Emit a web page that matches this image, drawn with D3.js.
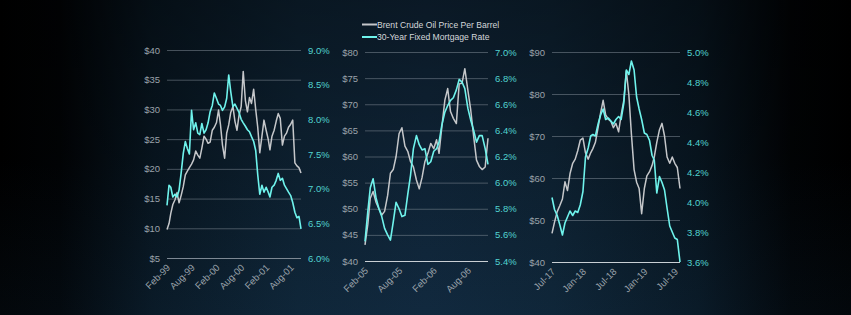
<!DOCTYPE html>
<html lang="en">
<head>
<meta charset="utf-8">
<title>Oil vs Mortgage Rates</title>
<script src="https://d3js.org/d3.v7.min.js"></script>
<style>
  html, body { margin: 0; padding: 0; background: #000; }
  svg { display: block; }
  text { font-family: "Liberation Sans", Arial, sans-serif; }
</style>
</head>
<body>
<div id="chart"></div>
<script>
// half-month samples, panel 1 starts Feb-99
const oil1 = [9.8,10.8,12.5,14.0,14.8,16.0,14.3,15.5,17.0,19.0,
  19.6,20.2,20.8,21.5,23.0,22.3,21.8,23.5,25.5,25.0,
  24.3,24.5,26.5,27.0,27.8,29.9,27.5,24.0,21.8,26.0,
  27.4,29.5,30.5,28.0,26.5,29.0,30.5,36.4,31.5,29.6,
  32.0,31.0,33.4,30.0,27.0,22.7,25.5,28.2,26.5,25.0,
  23.2,25.5,26.5,28.0,29.3,28.5,24.0,25.5,26.0,27.0,
  27.5,28.2,21.0,20.5,20.2,19.3];
const rate1 = [6.76,7.05,7.02,6.88,6.92,6.88,6.98,7.22,7.51,7.68,
  7.58,7.50,8.13,7.85,7.95,7.80,7.78,7.94,7.80,7.85,
  7.95,8.11,8.20,8.38,8.30,8.22,8.20,8.13,8.18,8.30,
  8.64,8.40,8.18,8.22,8.16,8.10,8.00,7.95,7.90,7.85,
  7.82,7.75,7.68,7.55,7.20,6.92,7.05,6.95,7.02,6.95,
  6.88,7.02,7.05,7.12,7.22,7.12,7.15,7.05,7.00,6.95,
  6.90,6.80,6.66,6.58,6.60,6.42];

// panel 2 starts Feb-05
const oil2 = [43.1,47.0,52.0,53.3,51.2,50.0,48.8,49.5,52.5,56.8,
  57.5,60.0,64.4,65.5,62.0,61.0,59.0,58.0,55.5,53.8,
  56.0,59.0,60.6,62.5,61.5,63.2,60.6,65.7,70.8,73.0,
  68.6,67.3,66.3,73.9,74.0,76.8,72.7,69.0,63.8,59.3,
  58.1,57.5,58.0,63.5];
const rate2 = [5.55,5.78,5.96,6.03,5.88,5.80,5.74,5.65,5.60,5.56,
  5.70,5.85,5.80,5.74,5.75,5.91,6.06,6.26,6.36,6.29,
  6.25,6.26,6.14,6.16,6.24,6.26,6.31,6.44,6.54,6.59,
  6.63,6.65,6.71,6.79,6.77,6.72,6.57,6.48,6.40,6.31,
  6.36,6.36,6.26,6.14];

// panel 3 starts Jul-17
const oil3 = [46.8,49.5,52.0,53.4,55.0,59.1,57.0,61.0,63.5,64.5,
  66.5,69.0,69.5,66.0,64.5,66.0,67.0,68.5,72.0,75.5,
  78.5,75.0,74.0,73.5,72.0,73.0,71.0,75.0,78.5,85.5,
  79.8,70.5,62.0,59.0,57.5,51.5,57.5,60.5,61.5,63.0,
  65.0,68.5,71.5,73.0,70.0,65.0,63.5,65.0,63.5,62.5,
  57.5];
const rate3 = [4.03,3.95,3.91,3.85,3.78,3.86,3.90,3.94,3.91,3.94,
  3.93,3.98,4.07,4.30,4.36,4.44,4.45,4.44,4.52,4.58,
  4.62,4.55,4.56,4.54,4.52,4.55,4.57,4.55,4.66,4.88,
  4.85,4.94,4.88,4.70,4.62,4.55,4.46,4.45,4.41,4.31,
  4.28,4.06,4.17,4.13,4.08,3.96,3.84,3.80,3.76,3.75,
  3.60];

const xTicks1 = ["Feb-99","Aug-99","Feb-00","Aug-00","Feb-01","Aug-01"];
const xTicks2 = ["Feb-05","Aug-05","Feb-06","Aug-06"];
const xTicks3 = ["Jul-17","Jan-18","Jul-18","Jan-19","Jul-19"];

const oilTicks1 = [5,10,15,20,25,30,35,40];
const rateTicks1 = [6.0,6.5,7.0,7.5,8.0,8.5,9.0];
const oilTicks2 = [40,45,50,55,60,65,70,75,80];
const rateTicks2 = [5.4,5.6,5.8,6.0,6.2,6.4,6.6,6.8,7.0];
const oilTicks3 = [40,50,60,70,80,90];
const rateTicks3 = [3.6,3.8,4.0,4.2,4.4,4.6,4.8,5.0];

const seriesNames = ["Brent Crude Oil Price Per Barrel", "30-Year Fixed Mortgage Rate"];

const width = 851, height = 315;
const oilColor = "#c5c7ca", rateColor = "#6ff3ec";

const parseTick = d3.timeParse("%b-%y");

function halfMonths(startLabel, n) {
  const start = parseTick(startLabel);
  return d3.range(n).map(i => {
    const m = d3.timeMonth.offset(start, Math.floor(i / 2));
    return i % 2 ? d3.timeDay.offset(m, 15) : m;
  });
}

const panels = [
  {oil: oil1, rate: rate1, start: "Feb-99", xt: xTicks1, ot: oilTicks1, rt: rateTicks1,
   x0: 167, x1: 301, top: 50, bot: 258, baseColor: "#7d8893"},
  {oil: oil2, rate: rate2, start: "Feb-05", xt: xTicks2, ot: oilTicks2, rt: rateTicks2,
   x0: 365, x1: 488, top: 52, bot: 261, baseColor: "#c9cfd4"},
  {oil: oil3, rate: rate3, start: "Jul-17", xt: xTicks3, ot: oilTicks3, rt: rateTicks3,
   x0: 552, x1: 680, top: 52, bot: 262, baseColor: "#c9cfd4"}
];

const svg = d3.select("#chart").append("svg")
  .attr("width", width).attr("height", height);

// background vignette
const defs = svg.append("defs");
const hg = defs.append("linearGradient").attr("id", "bgH");
[[0, "#000000"], [0.07, "#010305"], [0.18, "#081621"], [0.35, "#0e2334"],
 [0.5, "#10263a"], [0.65, "#0e2334"], [0.82, "#081621"], [0.93, "#010305"], [1, "#000000"]]
  .forEach(s => hg.append("stop").attr("offset", s[0]).attr("stop-color", s[1]));
const vg = defs.append("linearGradient").attr("id", "bgV")
  .attr("x1", 0).attr("y1", 0).attr("x2", 0).attr("y2", 1);
vg.append("stop").attr("offset", 0).attr("stop-color", "#000").attr("stop-opacity", 0.35);
vg.append("stop").attr("offset", 0.5).attr("stop-color", "#000").attr("stop-opacity", 0.12);
vg.append("stop").attr("offset", 1).attr("stop-color", "#1a4060").attr("stop-opacity", 0.12);

svg.append("rect").attr("width", width).attr("height", height).attr("fill", "url(#bgH)");
svg.append("rect").attr("width", width).attr("height", height).attr("fill", "url(#bgV)");

panels.forEach(p => {
  const dates = halfMonths(p.start, p.oil.length);
  const x = d3.scaleTime().domain(d3.extent(dates)).range([p.x0, p.x1]);
  const yOil = d3.scaleLinear().domain(d3.extent(p.ot)).range([p.bot, p.top]);
  const yRate = d3.scaleLinear().domain(d3.extent(p.rt)).range([p.bot, p.top]);

  // left axis + gridlines
  const gl = svg.append("g")
    .attr("transform", `translate(${p.x0},0)`)
    .call(d3.axisLeft(yOil).tickValues(p.ot).tickFormat(d => "$" + d)
      .tickSize(-(p.x1 - p.x0)).tickPadding(7));
  gl.select(".domain").remove();
  gl.selectAll(".tick line").attr("stroke", "#7a8590").attr("stroke-opacity", 0.55);
  gl.selectAll(".tick").filter(d => d === p.ot[0]).select("line")
    .attr("stroke", p.baseColor).attr("stroke-opacity", 1).attr("stroke-width", 1.2);
  gl.selectAll(".tick text").attr("fill", "#9aa2aa").attr("font-size", "9.5px")
    .attr("font-family", "'Liberation Sans', Arial, sans-serif");

  // right axis
  const gr = svg.append("g")
    .attr("transform", `translate(${p.x1},0)`)
    .call(d3.axisRight(yRate).tickValues(p.rt).tickFormat(d => d.toFixed(1) + "%")
      .tickSize(0).tickPadding(7));
  gr.select(".domain").remove();
  gr.selectAll(".tick text").attr("fill", "#52d3d0").attr("font-size", "9.5px")
    .attr("font-family", "'Liberation Sans', Arial, sans-serif");

  // bottom axis
  const gx = svg.append("g")
    .attr("transform", `translate(0,${p.bot})`)
    .call(d3.axisBottom(x).tickValues(p.xt.map(parseTick))
      .tickFormat(d3.timeFormat("%b-%y")).tickSize(0));
  gx.select(".domain").remove();
  gx.selectAll(".tick text")
    .attr("y", 0).attr("x", 0).attr("dy", "0.35em")
    .attr("text-anchor", "end")
    .attr("transform", "translate(1,8) rotate(-45)")
    .attr("fill", "#9aa2aa").attr("font-size", "9.5px")
    .attr("font-family", "'Liberation Sans', Arial, sans-serif");

  const oilLine = d3.line().x((d, i) => x(dates[i])).y(d => yOil(d));
  const rateLine = d3.line().x((d, i) => x(dates[i])).y(d => yRate(d));

  svg.append("path").datum(p.oil).attr("d", oilLine)
    .attr("fill", "none").attr("stroke", oilColor).attr("stroke-width", 1.5)
    .attr("stroke-linejoin", "round");
  svg.append("path").datum(p.rate).attr("d", rateLine)
    .attr("fill", "none").attr("stroke", rateColor).attr("stroke-width", 1.6)
    .attr("stroke-linejoin", "round");
});

// legend
const legend = svg.append("g").attr("transform", "translate(362,24.5)");
seriesNames.forEach((name, i) => {
  const row = legend.append("g").attr("transform", `translate(0,${i * 12.5})`);
  row.append("line").attr("x1", 0).attr("x2", 15).attr("y1", 0).attr("y2", 0)
    .attr("stroke", i === 0 ? oilColor : rateColor).attr("stroke-width", 2);
  row.append("text").attr("x", 15).attr("y", 0).attr("dy", "0.35em")
    .attr("fill", "#d4d7da").attr("font-size", "8.6px").text(name);
});
</script>
</body>
</html>
